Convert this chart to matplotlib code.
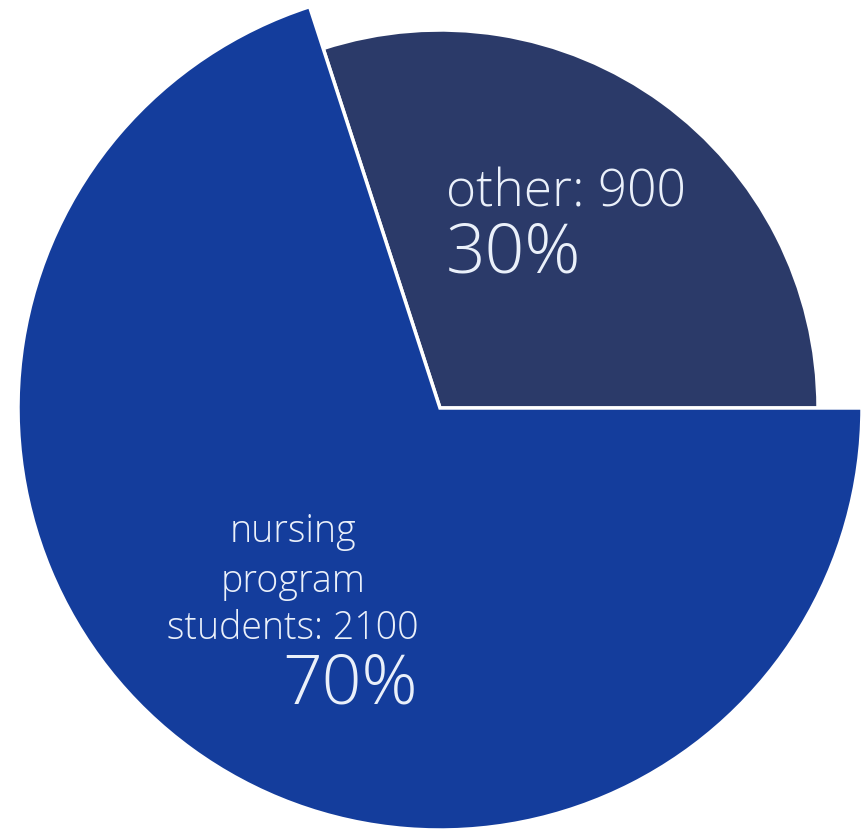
import matplotlib
matplotlib.use("Agg")
import matplotlib.pyplot as plt

categories = ["other", "nursing\nprogram\nstudents"]
values = [900, 2100]
percents = ["30%", "70%"]
colors = ["#2b3a69", "#143d9c"]
radii = [378, 422]

fig = plt.figure(figsize=(8.67, 8.34), dpi=100)
ax = fig.add_axes([0, 0, 1, 1])
wedges, _ = ax.pie(values, colors=colors, startangle=0, counterclock=True,
                   radius=422, center=(0, 0), frame=False,
                   wedgeprops=dict(edgecolor="white", linewidth=2.5))
for w, r in zip(wedges, radii):
    w.set_radius(r)
ax.set_xlim(-440, 867 - 440)
ax.set_ylim(-426, 834 - 426)
ax.set_aspect("equal")
ax.axis("off")

tc = "#eaf0fa"
fam = ["Open Sans", "DejaVu Sans"]
small = 27
other_size = 37
big = 50
wt = "light"
ax.text(6, 202, f"{categories[0]}: {values[0]}", color=tc, fontsize=other_size,
        family=fam, weight=wt, ha="left", va="baseline")
ax.text(6, 136, percents[0], color=tc, fontsize=big,
        family=fam, weight=wt, ha="left", va="baseline")
lines = categories[1].split("\n")
ys = [-134, -184]
for ln, y in zip(lines[:-1], ys):
    ax.text(-147, y, ln, color=tc, fontsize=small, family=fam,
            weight=wt, ha="center", va="baseline")
ax.text(-147, -231, f"{lines[-1]}: {values[1]}", color=tc, fontsize=small,
        family=fam, weight=wt, ha="center", va="baseline")
ax.text(-22, -295, percents[1], color=tc, fontsize=big, family=fam,
        weight=wt, ha="right", va="baseline")

fig.savefig("out.png", dpi=100)
